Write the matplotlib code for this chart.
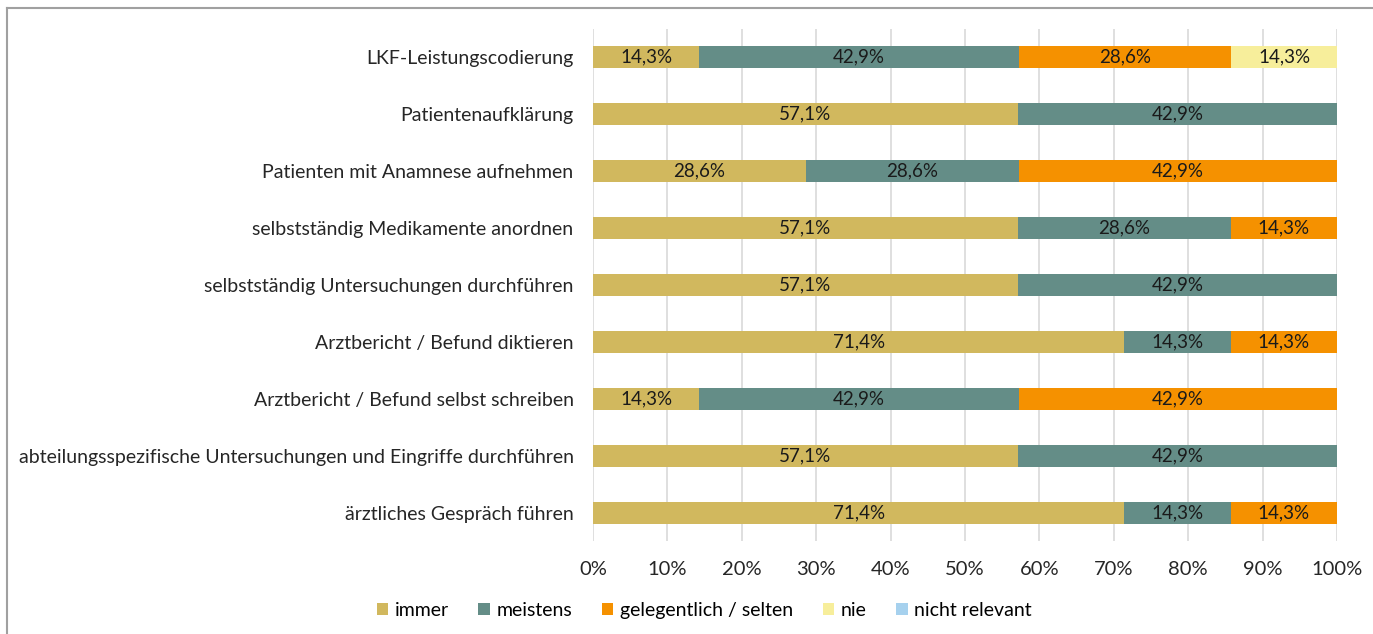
import numpy as np
import matplotlib.pyplot as plt
from matplotlib.lines import Line2D
from matplotlib.patches import Patch

plt.rcParams['font.family'] = ['Lato', 'DejaVu Sans']

categories = [
    "LKF-Leistungscodierung",
    "Patientenaufklärung",
    "Patienten mit Anamnese aufnehmen",
    "selbstständig Medikamente anordnen",
    "selbstständig Untersuchungen durchführen",
    "Arztbericht / Befund diktieren",
    "Arztbericht / Befund selbst schreiben",
    "abteilungsspezifische Untersuchungen und Eingriffe durchführen",
    "ärztliches Gespräch führen",
]
series = ["immer", "meistens", "gelegentlich / selten", "nie", "nicht relevant"]
immer = [14.3, 57.1, 28.6, 57.1, 57.1, 71.4, 14.3, 57.1, 71.4]
meistens = [42.9, 42.9, 28.6, 28.6, 42.9, 14.3, 42.9, 42.9, 14.3]
gelegentlich = [28.6, 0, 42.9, 14.3, 0, 14.3, 42.9, 0, 14.3]
nie = [14.3, 0, 0, 0, 0, 0, 0, 0, 0]
nicht_relevant = [0, 0, 0, 0, 0, 0, 0, 0, 0]
colors = ["#D1B85E", "#648D87", "#F59100", "#F7EE9B", "#A6D1EE"]

data = np.array([immer, meistens, gelegentlich, nie, nicht_relevant]) / 100

fig = plt.figure(figsize=(13.73, 6.34), dpi=100)
ax = fig.add_axes([0.4319, 0.146, 0.5419, 0.809])

y = np.arange(len(categories))
left = np.zeros(len(categories))
for vals, name, col in zip(data, series, colors):
    ax.barh(y, vals, left=left, height=0.39, color=col, label=name, zorder=2)
    for yi, (l, v) in enumerate(zip(left, vals)):
        if v > 0:
            txt = f"{v * 100:.1f}%".replace(".", ",")
            ax.text(l + v / 2, yi, txt, ha="center", va="center",
                    fontsize=13.5, color="#1a1a1a", zorder=3)
    left += vals

ax.set_xlim(0, 1)
ax.set_ylim(len(categories) - 0.5, -0.5)
ax.set_yticks(y)
ax.set_yticklabels(categories, fontsize=14, color="#262626")
ax.set_xticks(np.linspace(0, 1, 11))
ax.set_xticklabels([f"{i}%" for i in range(0, 101, 10)], fontsize=14.5, color="#262626")
ax.tick_params(length=0)
ax.tick_params(axis="x", pad=14)
ax.tick_params(axis="y", pad=14)
ax.xaxis.grid(True, color="#D9D9D9", linewidth=1.2, zorder=0)
ax.set_axisbelow(True)
for s in ax.spines.values():
    s.set_visible(False)

handles = [Patch(facecolor=c, label=n) for n, c in zip(series, colors)]
fig.legend(handles=handles, loc="center", bbox_to_anchor=(0.513, 0.037), ncol=5,
           frameon=False, fontsize=14, handlelength=0.6, handleheight=0.6,
           handletextpad=0.35, columnspacing=1.5)

# outer chart border (top and left visible)
fig.add_artist(Line2D([0.0051, 1], [1 - 8 / 634, 1 - 8 / 634], color="#A0A0A0", lw=1.5))
fig.add_artist(Line2D([0.0051, 0.0051], [0, 1 - 8 / 634], color="#A0A0A0", lw=1.5))

fig.savefig("out.png", dpi=100)
